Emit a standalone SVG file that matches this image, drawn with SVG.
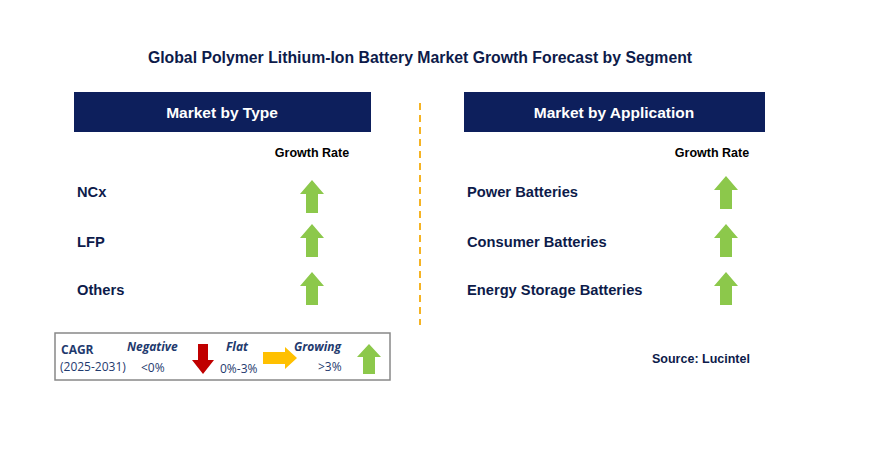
<svg xmlns="http://www.w3.org/2000/svg" width="872" height="461" viewBox="0 0 872 461">
<style>
.t{font-family:"Liberation Sans",Arial,sans-serif;font-weight:bold;fill:#0d1b4a}
.h{font-family:"Liberation Sans",Arial,sans-serif;font-weight:bold;fill:#fff;font-size:15.5px}
.l{font-size:14.7px}
.g{font-size:12.5px;fill:#000}
.hdr{fill:#0d1f5c}
.up{fill:#8cc84b}
.lg{font-family:"Open Sans","Liberation Sans",sans-serif;fill:#1f3a6e;font-size:12px}
</style>
<defs>
<path id="up" class="up" d="M0,0 L12,14 L6,14 L6,33 L-6,33 L-6,14 L-12,14 Z"/>
</defs>
<rect width="872" height="461" fill="#fff"/>
<text class="t" x="420" y="63" font-size="15.8" text-anchor="middle">Global Polymer Lithium-Ion Battery Market Growth Forecast by Segment</text>
<g id="type">
<rect class="hdr" x="74" y="92" width="297" height="40"/>
<text class="h" x="222" y="118" text-anchor="middle">Market by Type</text>
<text class="t g" x="312" y="157" text-anchor="middle">Growth Rate</text>
<text class="t l" x="77" y="197">NCx</text>
<text class="t l" x="77" y="247">LFP</text>
<text class="t l" x="77" y="295">Others</text>
<use href="#up" x="312" y="180"/>
<use href="#up" x="312" y="224"/>
<use href="#up" x="312" y="272"/>
</g>
<line x1="420" y1="103" x2="420" y2="325" stroke="#f5b323" stroke-width="2" stroke-dasharray="7,5"/>
<g id="app">
<rect class="hdr" x="464" y="92" width="301" height="40"/>
<text class="h" x="614" y="118" text-anchor="middle">Market by Application</text>
<text class="t g" x="712" y="157" text-anchor="middle">Growth Rate</text>
<text class="t l" x="467" y="197">Power Batteries</text>
<text class="t l" x="467" y="247">Consumer Batteries</text>
<text class="t l" x="467" y="295">Energy Storage Batteries</text>
<use href="#up" x="726" y="176"/>
<use href="#up" x="726" y="224"/>
<use href="#up" x="726" y="272"/>
</g>
<g id="legend">
<rect x="55" y="333" width="335" height="47" fill="#fff" stroke="#888" stroke-width="1.5"/>
<text class="lg" x="61" y="354" font-weight="bold" font-size="13">CAGR</text>
<text class="lg" x="60" y="371">(2025-2031)</text>
<text class="lg" x="127" y="351" font-weight="bold" font-style="italic" font-size="13">Negative</text>
<text class="lg" x="141" y="372">&lt;0%</text>
<path d="M198,344 L208,344 L208,360 L214,360 L203,374 L192,360 L198,360 Z" fill="#c00000"/>
<text class="lg" x="226" y="351" font-weight="bold" font-style="italic" font-size="13">Flat</text>
<text class="lg" x="220" y="373">0%-3%</text>
<path d="M263,352 L285,352 L285,347 L297,358 L285,369 L285,364 L263,364 Z" fill="#ffc000"/>
<text class="lg" x="294" y="351" font-weight="bold" font-style="italic" font-size="13">Growing</text>
<text class="lg" x="318" y="371">&gt;3%</text>
<path d="M369,344 L381,357 L375,357 L375,374 L363,374 L363,357 L357,357 Z" fill="#8cc84b"/>
</g>
<text class="t g" x="652" y="363" style="fill:#0d1b4a">Source: Lucintel</text>
</svg>
